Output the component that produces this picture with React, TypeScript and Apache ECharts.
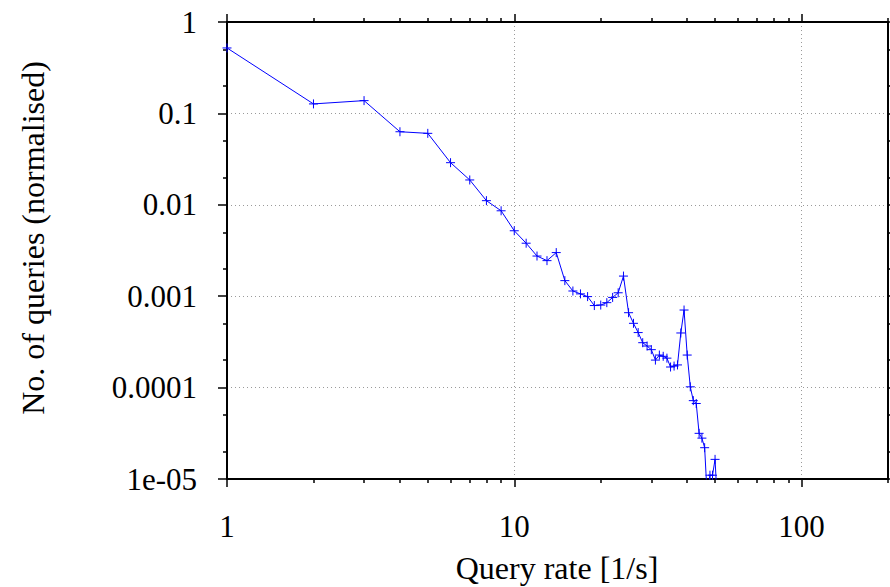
import React, { useEffect, useRef } from "react";
import * as echarts from "echarts";

// Query rate [1/s]
const queryRate = [
  1, 2, 3, 4, 5, 6, 7, 8, 9, 10,
  11, 12, 13, 14, 15, 16, 17, 18, 19, 20,
  21, 22, 23, 24, 25, 26, 27, 28, 29, 30,
  31, 32, 33, 34, 35, 36, 37, 38, 39, 40,
  41, 42, 43, 44, 45, 46, 47, 48, 49, 50, 51,
];

// No. of queries (normalised)
const queryShare = [
  0.52, 0.127, 0.138, 0.063, 0.0605, 0.0289, 0.0187, 0.0111, 0.0086, 0.0052,
  0.0038, 0.00275, 0.00245, 0.003, 0.00148, 0.00114, 0.00106, 0.00099, 0.00079, 0.0008,
  0.00085, 0.00097, 0.00109, 0.00166, 0.00066, 0.000505, 0.0004, 0.00031, 0.000285, 0.00026,
  0.0002, 0.000227, 0.00022, 0.00021, 0.000168, 0.000172, 0.000177, 0.000396, 0.000706, 0.000227,
  0.000102, 0.000072, 0.000067, 0.0000316, 0.000028, 0.000022, 0.000006, 0.000011, 0.000011, 0.0000164, 0.000005,
];

const xMajorTicks = [1, 10, 100];
const xTickLabels = ["1", "10", "100"];
const xMinorTicks = [2, 3, 4, 5, 6, 7, 8, 9, 20, 30, 40, 50, 60, 70, 80, 90, 200];

const yMajorTicks = [1e-5, 1e-4, 1e-3, 1e-2, 1e-1, 1];
const yTickLabels = ["1e-05", "0.0001", "0.001", "0.01", "0.1", "1"];
const yMinorTicks = [2e-5, 5e-5, 2e-4, 5e-4, 2e-3, 5e-3, 2e-2, 5e-2, 0.2, 0.5];

const xTitle = "Query rate [1/s]";
const yTitle = "No. of queries (normalised)";

const FONT = '"Liberation Serif", "DejaVu Serif", "Times New Roman", serif';
const BLUE = "#0000ff";

function labelFor(ticks: number[], labels: string[]) {
  return (v: number) => {
    const e = Math.round(Math.log10(v));
    const idx = ticks.findIndex((t) => Math.round(Math.log10(t)) === e);
    if (idx < 0) return "";
    if (Math.abs(Math.log10(v) - e) > 1e-6) return "";
    return labels[idx];
  };
}

export default function App() {
  const ref = useRef<HTMLDivElement>(null);

  useEffect(() => {
    if (!ref.current) return;
    const chart = echarts.init(ref.current, undefined, { renderer: "svg" });

    const axisLine = { show: true, onZero: false, lineStyle: { color: "#000", width: 2 } };
    const tickStyle = { color: "#000", width: 1.5 };

    const xBase = { type: "log", logBase: 10, min: 1, max: 200, gridIndex: 0 };
    const yBase = { type: "log", logBase: 10, min: 1e-5, max: 1, gridIndex: 0 };

    const option: any = {
      animation: false,
      backgroundColor: "#ffffff",
      grid: { left: 227, right: 2, top: 22, bottom: 108, containLabel: false },
      xAxis: [
        {
          ...xBase,
          position: "bottom",
          axisLine,
          axisTick: { show: true, inside: false, length: 8, customValues: xMajorTicks, lineStyle: tickStyle },
          axisLabel: {
            show: true,
            customValues: xMajorTicks,
            formatter: labelFor(xMajorTicks, xTickLabels),
            fontSize: 31,
            fontFamily: FONT,
            color: "#000",
            margin: 32,
          },
          splitLine: { show: true, lineStyle: { type: [1, 3], color: "#9a9a9a", width: 1 } },
          minorTick: { show: false },
          minorSplitLine: { show: false },
        },
        {
          ...xBase,
          position: "bottom",
          offset: 0,
          axisLine: { show: false },
          axisTick: { show: true, inside: false, length: 4, customValues: xMinorTicks, lineStyle: tickStyle },
          axisLabel: { show: false },
          splitLine: { show: false },
        },
        {
          ...xBase,
          position: "top",
          offset: 0,
          axisLine,
          axisTick: { show: true, inside: false, length: 8, customValues: xMajorTicks, lineStyle: tickStyle },
          axisLabel: { show: false },
          splitLine: { show: false },
        },
        {
          ...xBase,
          position: "top",
          offset: 0,
          axisLine: { show: false },
          axisTick: { show: true, inside: false, length: 4, customValues: xMinorTicks, lineStyle: tickStyle },
          axisLabel: { show: false },
          splitLine: { show: false },
        },
      ],
      yAxis: [
        {
          ...yBase,
          position: "left",
          axisLine,
          axisTick: { show: true, inside: false, length: 9, customValues: yMajorTicks, lineStyle: tickStyle },
          axisLabel: {
            show: true,
            customValues: yMajorTicks,
            formatter: labelFor(yMajorTicks, yTickLabels),
            fontSize: 31,
            fontFamily: FONT,
            color: "#000",
            margin: 30,
          },
          splitLine: { show: true, lineStyle: { type: [1, 3], color: "#9a9a9a", width: 1 } },
          minorTick: { show: false },
          minorSplitLine: { show: false },
        },
        {
          ...yBase,
          position: "left",
          offset: 0,
          axisLine: { show: false },
          axisTick: { show: true, inside: false, length: 4, customValues: yMinorTicks, lineStyle: tickStyle },
          axisLabel: { show: false },
          splitLine: { show: false },
        },
        {
          ...yBase,
          position: "right",
          offset: 0,
          axisLine,
          axisTick: { show: true, inside: false, length: 8, customValues: yMajorTicks, lineStyle: tickStyle },
          axisLabel: { show: false },
          splitLine: { show: false },
        },
        {
          ...yBase,
          position: "right",
          offset: 0,
          axisLine: { show: false },
          axisTick: { show: true, inside: false, length: 4, customValues: yMinorTicks, lineStyle: tickStyle },
          axisLabel: { show: false },
          splitLine: { show: false },
        },
      ],
      series: [
        {
          type: "line",
          xAxisIndex: 0,
          yAxisIndex: 0,
          data: queryRate.map((x, i) => [x, queryShare[i]]),
          clip: true,
          showSymbol: true,
          showAllSymbol: true,
          symbol: "path://M0,5L10,5M5,0L5,10",
          symbolSize: 9,
          lineStyle: { color: BLUE, width: 1 },
          itemStyle: { color: "transparent", borderColor: BLUE, borderWidth: 1 },
          emphasis: { disabled: true },
        },
      ],
      graphic: [
        {
          type: "text",
          x: 557,
          y: 568,
          style: {
            text: xTitle,
            fontSize: 32,
            fontFamily: FONT,
            fill: "#000",
            textAlign: "center",
            textVerticalAlign: "middle",
          },
        },
        {
          type: "text",
          x: 33,
          y: 238,
          rotation: Math.PI / 2,
          style: {
            text: yTitle,
            fontSize: 32,
            fontFamily: FONT,
            fill: "#000",
            textAlign: "center",
            textVerticalAlign: "middle",
          },
        },
      ],
    };

    chart.setOption(option);
    return () => chart.dispose();
  }, []);

  return (
    <div
      ref={ref}
      style={{ position: "fixed", left: 0, top: 0, width: 890, height: 587, background: "#fff" }}
    />
  );
}
